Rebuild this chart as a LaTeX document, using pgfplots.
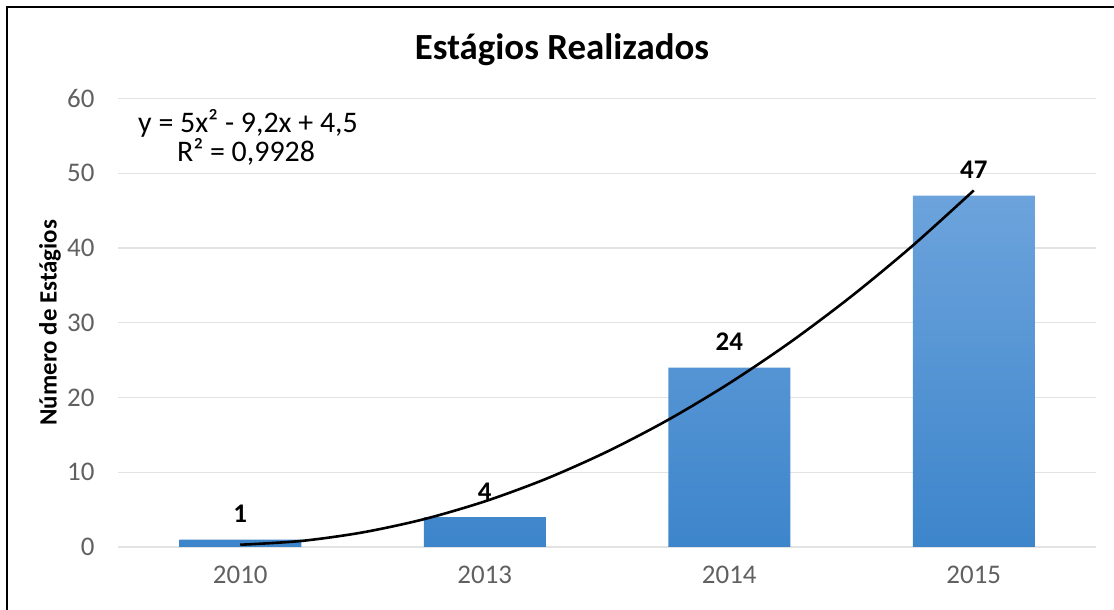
\documentclass[border=0pt]{standalone}
\usepackage{pgfplots}
\pgfplotsset{compat=1.18}
\usepackage{fontspec}
\setmainfont{Carlito}
\definecolor{tickgray}{HTML}{606060}
\definecolor{gridgray}{HTML}{E3E3E3}
\definecolor{barTop}{HTML}{6CA3DC}
\definecolor{barBot}{HTML}{3D85CB}
\begin{document}
\begin{tikzpicture}
\path[use as bounding box] (0,0) rectangle (1114bp,610bp);
\draw[line width=2.2bp] (7bp,0) -- (7bp,603bp) -- (1114bp,603bp);
\begin{axis}[
 at={(118bp,63bp)}, anchor=south west, scale only axis,
 width=978bp, height=448.5bp,
 xmin=-0.5, xmax=3.5, ymin=0, ymax=60,
 xtick={0,1,2,3}, xticklabels={2010,2013,2014,2015},
 ytick={0,10,...,60},
 ymajorgrids, grid style={draw=gridgray, line width=1.2bp},
 axis line style={draw=none},
 major tick length=0pt,
 tick label style={font=\fontsize{27}{30}\selectfont, text=tickgray},
 yticklabel style={anchor=east, xshift=-20bp},
 xticklabel style={anchor=north, yshift=-16bp},
 /pgf/number format/assume math mode=true,
 ylabel={Número de Estágios},
 ylabel style={font=\bfseries\fontsize{25}{28}\selectfont, at={(axis description cs:-0.0695,0.5)}, anchor=center},
 clip=false,
]
\addplot[ybar, bar width=122bp, draw=none, top color=barTop, bottom color=barBot,
  nodes near coords,
  nodes near coords style={font=\bfseries\fontsize{27}{30}\selectfont, text=black, anchor=base, yshift=17bp, fill=none, inner sep=0pt}]
  coordinates {(0,1) (1,4) (2,24) (3,47)};
\addplot[black, line width=2.6bp, smooth, no markers] coordinates {
 (0,0.3) (0.25,0.81) (0.5,1.95) (0.75,3.71) (1,6.1) (1.25,9.11) (1.5,12.75)
 (1.75,17.01) (2,21.9) (2.25,27.41) (2.5,33.55) (2.75,40.31) (3,47.7)};
\end{axis}
\node[anchor=base, font=\bfseries\fontsize{37}{40}\selectfont] at (562bp,550bp) {Estágios Realizados};
\node[anchor=base, font=\fontsize{30}{32}\selectfont] at (248bp,477bp) {y = 5x² - 9,2x + 4,5};
\node[anchor=base, font=\fontsize{30}{32}\selectfont] at (246bp,448bp) {R² = 0,9928};
\end{tikzpicture}
\end{document}
